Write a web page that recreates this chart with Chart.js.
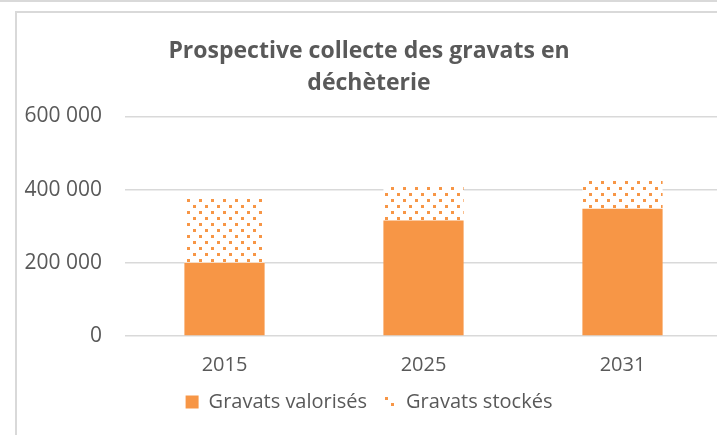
<!DOCTYPE html>
<html>
<head>
<meta charset="utf-8">
<script src="https://cdn.jsdelivr.net/npm/chart.js@4"></script>
<style>
  html, body { margin: 0; padding: 0; background: #fff; overflow: hidden; }
  body { width: 717px; height: 435px; position: relative; }
  #topline { position: absolute; left: 0; top: 0; width: 717px; height: 2px; background: #d9d9d9; }
  #frame { position: absolute; left: 15px; top: 11px; width: 760px; height: 460px;
           border-left: 2px solid #d9d9d9; border-top: 2px solid #d9d9d9; }
  #wrap { position: absolute; left: 0; top: 0; width: 748px; height: 435px; }
</style>
</head>
<body>
<div id="topline"></div>
<div id="frame"></div>
<div id="wrap"><canvas id="gravatsChart"></canvas></div>
<script>
const years = ["2015", "2025", "2031"];
const valorises = [200000, 316000, 348000];
const stockes = [180000, 98000, 80000];
const yTicks = [0, 200000, 400000, 600000];

const orange = "#F79646";
const textGrey = "#595959";

// dotted fill for the stored rubble
function dotPattern() {
    const tile = document.createElement("canvas");
    tile.width = 12;
    tile.height = 12;
    const t = tile.getContext("2d");
    t.fillStyle = "#ffffff";
    t.fillRect(0, 0, 12, 12);
    t.fillStyle = orange;
    t.fillRect(1, 1, 3, 3);
    t.fillRect(7, 7, 3, 3);
    return document.getElementById("gravatsChart").getContext("2d").createPattern(tile, "repeat");
}

function spaced(v) {
    return String(v).replace(/\B(?=(\d{3})+(?!\d))/g, " ");
}

document.addEventListener("DOMContentLoaded", () => {
    const ctx = document.getElementById("gravatsChart").getContext("2d");
    new Chart(ctx, {
        type: "bar",
        data: {
            labels: years,
            datasets: [{
                label: "Gravats valorisés",
                data: valorises,
                backgroundColor: orange,
                borderWidth: 0
            }, {
                label: "Gravats stockés",
                data: stockes,
                backgroundColor: dotPattern(),
                borderWidth: 0
            }]
        },
        options: {
            responsive: true,
            maintainAspectRatio: false,
            animation: false,
            layout: {
                padding: { left: 16, right: 26, top: 11, bottom: 13 }
            },
            datasets: {
                bar: { categoryPercentage: 1, barPercentage: 0.403 }
            },
            scales: {
                x: {
                    stacked: true,
                    afterFit: (scale) => {
                        scale.height = 40;
                    },
                    grid: { display: false, drawTicks: false },
                    border: { display: false },
                    ticks: {
                        color: textGrey,
                        padding: 19,
                        font: { family: "Open Sans", size: 20, lineHeight: 1 }
                    }
                },
                y: {
                    stacked: true,
                    min: 0,
                    max: 600000,
                    afterBuildTicks: (scale) => {
                        scale.ticks = yTicks.map(v => ({ value: v }));
                    },
                    afterFit: (scale) => {
                        scale.width = 109;
                    },
                    grid: { color: "#d9d9d9", lineWidth: 1.5, drawTicks: false },
                    border: { display: false },
                    ticks: {
                        color: textGrey,
                        padding: 23,
                        font: { family: "Open Sans", size: 21 },
                        callback: (v) => spaced(v)
                    }
                }
            },
            plugins: {
                tooltip: { enabled: false },
                title: {
                    display: true,
                    text: ["Prospective collecte des gravats en", "déchèterie"],
                    color: textGrey,
                    font: { family: "Open Sans", size: 23, weight: "bold", lineHeight: 1.38 },
                    padding: { top: 25, bottom: 17 }
                },
                legend: {
                    position: "bottom",
                    labels: {
                        color: textGrey,
                        boxWidth: 13,
                        boxHeight: 13,
                        padding: 16,
                        font: { family: "Open Sans", size: 20 }
                    }
                }
            }
        }
    });
});
</script>
</body>
</html>
